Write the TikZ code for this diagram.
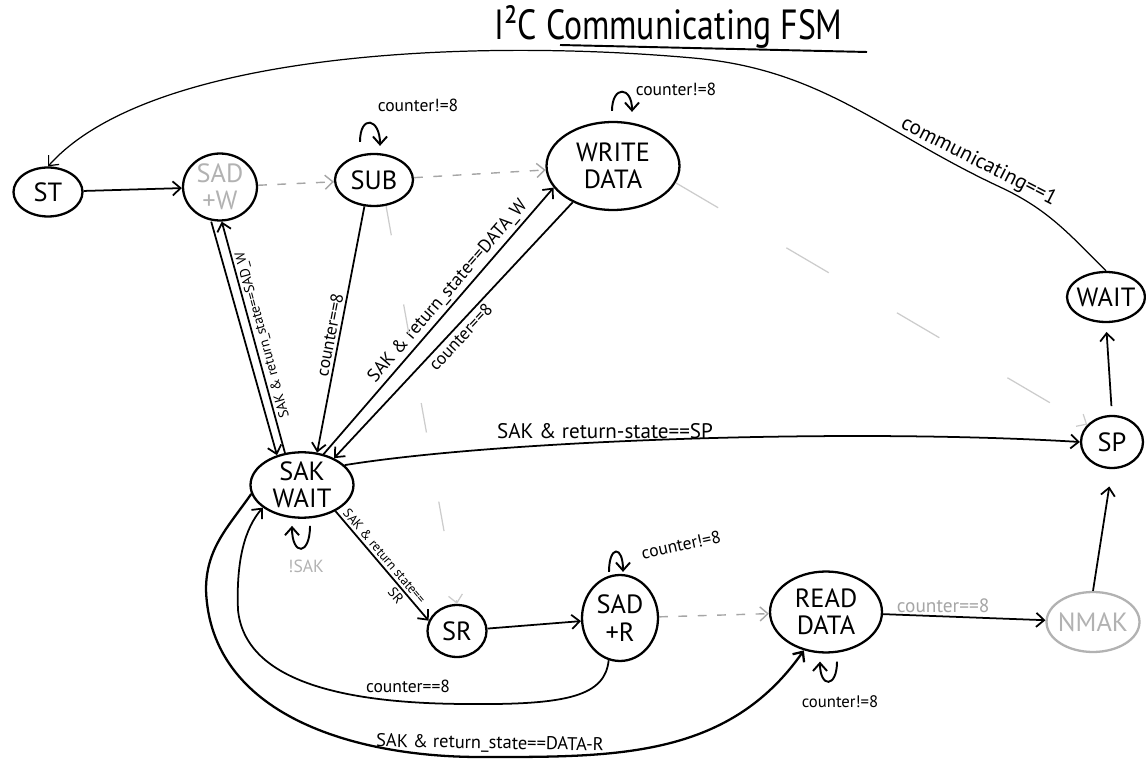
\documentclass[tikz,border=0pt]{standalone}
\usepackage{fontspec}
\setmainfont{PT Sans}
\usetikzlibrary{arrows.meta,shapes.geometric}
\newdimen\pxu \pxu=0.569pt
\begin{document}
\begin{tikzpicture}[x=0.02cm,y=-0.02cm,
  st/.style={draw, ellipse, line width=1.3pt, inner sep=0pt, align=center, font=\fontsize{15}{15.5}\selectfont},
  arr/.style={-{Straight Barb[length=4.5pt,width=8pt]}, line width=1pt},
  lab/.style={font=\fontsize{10}{11}\selectfont, inner sep=1.5pt},
  dsh/.style={arr, gray!70, dash pattern=on 5pt off 6pt, line width=0.8pt},
  faint/.style={arr, gray!40, line width=0.7pt},
  sloop/.style={arr, line width=1.1pt},
]
\fill[white] (0,0) rectangle (1146,766);
\useasboundingbox (0,0) rectangle (1146,766);

% title
\node[font=\fontsize{24}{26}\selectfont, anchor=base east, inner sep=0pt] (title) at (843,40) {\scalebox{0.8}[1]{I²C Communicating FSM}};
\draw[line width=1.1pt] (560,45) -- (867,52);

% states
\node[st, minimum width=69\pxu, minimum height=49\pxu] (ST) at (48,192) {ST};
\node[st, minimum width=74\pxu, minimum height=67\pxu, text=gray!60] (SADW) at (220,187) {SAD\\+W};
\node[st, minimum width=78\pxu, minimum height=52\pxu] (SUB) at (374,180) {SUB};
\node[st, minimum width=133\pxu, minimum height=88\pxu] (WRITE) at (613,166) {WRITE\\DATA};
\node[st, minimum width=78\pxu, minimum height=50\pxu] (WAIT) at (1106,297) {\makebox[0pt]{WAIT}};
\node[st, minimum width=62\pxu, minimum height=52\pxu] (SP) at (1112,442) {SP};
\node[st, minimum width=93\pxu, minimum height=60\pxu, draw=gray!60, text=gray!60] (NMAK) at (1093,622) {\makebox[0pt]{NMAK}};
\node[st, minimum width=112\pxu, minimum height=81\pxu] (READ) at (826,612) {READ\\DATA};
\node[st, minimum width=76\pxu, minimum height=86\pxu] (SADR) at (620,618) {SAD\\+R};
\node[st, minimum width=59\pxu, minimum height=52\pxu] (SR) at (457,631) {SR};
\node[st, minimum width=103\pxu, minimum height=64\pxu] (SAKW) at (302,485) {SAK\\WAIT};

% top row
\draw[arr] (ST) -- (SADW);
\draw[dsh] (SADW) -- (SUB);
\draw[dsh] (SUB) -- (WRITE);

% self loops
\draw[sloop] ([shift={(-14,-11)}]SUB.north) to[out=90,in=90,looseness=3.5] ([shift={(6,-7)}]SUB.north);
\node[lab] (lsub) at (418,105) {counter!=8};
\draw[sloop] ([shift={(-1,-10)}]WRITE.north) to[out=90,in=90,looseness=3.3] ([shift={(19,-9)}]WRITE.north);
\node[lab] (lwr) at (676,89) {counter!=8};
\draw[sloop] ([shift={(8,7)}]SAKW.south) to[out=-90,in=-90,looseness=4.3] ([shift={(-10,7)}]SAKW.south);
\node[lab, text=gray!60] (lsak) at (306,566) {!SAK};
\draw[sloop] ([shift={(-11,-2)}]SADR.north) to[out=90,in=90,looseness=4.9] ([shift={(3,-2)}]SADR.north);
\node[lab, rotate=12] (lsadr) at (681,545) {counter!=8};
\draw[sloop] ([shift={(11,8)}]READ.south) to[out=-90,in=-90,looseness=4] ([shift={(-6,8)}]READ.south);
\node[lab, font=\fontsize{9.5}{10}\selectfont] (lrd) at (840,702) {counter!=8};

% SAD+W <-> SAK WAIT
\draw[arr] ([xshift=-5pt]SADW.south) -- (SAKW.130);
\draw[arr] (SAKW.118) -- ([xshift=1pt]SADW.south)
  node[lab, font=\fontsize{8}{9}\selectfont, sloped, allow upside down, below, pos=0.5] {SAK \& return\_state==SAD\_W};

% SUB -> SAK WAIT
\draw[arr] (SUB.250) -- (SAKW.65) node[lab, sloped, above, pos=0.53] {counter==8};

% SAK WAIT <-> WRITE DATA
\draw[arr] (SAKW.55) -- (WRITE.200)
  node[lab, font=\fontsize{10.5}{11}\selectfont, sloped, above, pos=0.58] {SAK \& return\_state==DATA\_W};
\draw[arr] (WRITE.222) -- (SAKW.40) node[lab, sloped, below, pos=0.5] {counter==8};

% SAK WAIT -> SP
\draw[arr] (SAKW.25) .. controls (500,440) and (850,428) .. (SP.west);
\node[lab, font=\fontsize{12}{13}\selectfont] (lsp) at (605,431) {SAK \& return-state==SP};

% SAK WAIT -> SR
\draw[arr] (SAKW.-38) -- (SR.160)
  node[lab, font=\fontsize{7.5}{8}\selectfont, sloped, above, pos=0.46] {SAK \& return state==}
  node[lab, font=\fontsize{8}{9}\selectfont, sloped, below, pos=0.72] {SR};

% bottom row
\draw[arr] (SR) -- (SADR);
\draw[dsh] (SADR) -- (READ);
\draw[arr] (READ) -- (NMAK) node[lab, font=\fontsize{11}{12}\selectfont, above, pos=0.37, text=gray!70] {counter==8};
\draw[arr, shorten >=10pt] (NMAK.north) -- (SP.south);
\draw[arr, shorten <=5pt, shorten >=5pt] (SP.north) -- (WAIT.south);

% SAD+R -> SAK WAIT
\coordinate (cm1) at (470,704);
\coordinate (cm2) at (238,610);
\draw[arr] (SADR.255) .. controls (605,695) and (570,705) .. (cm1) .. controls (340,704) and (245,680) .. (cm2) .. controls (236,560) and (245,528) .. (SAKW.210);
\node[lab] (lcm) at (408,686) {counter==8};

% SAK WAIT -> READ DATA
\coordinate (dl1) at (206,590);
\coordinate (dl2) at (480,757);
\draw[arr, line width=1.3pt] (SAKW.190) to[out=235,in=90] (dl1) to[out=-88,in=180] (dl2) to[out=0,in=235] (READ.240);
\node[lab, font=\fontsize{10.5}{11}\selectfont, rotate=-1] (ldr) at (490,744) {SAK \& return\_state==DATA-R};

% WAIT -> ST
\coordinate (cw) at (1000,187);
\coordinate (tp) at (693,58);
\draw[arr, line width=0.7pt] (WAIT.north) to[out=135,in=-25] (cw)
  to[out=155,in=-5] node[lab, font=\fontsize{12}{13}\selectfont, sloped, above, pos=0.08] {communicating==1} (tp)
  .. controls (470,38) and (150,52) .. (ST.north);

% faint dashed
\draw[faint, dash pattern=on 17pt off 40pt] (SUB.-65) -- (SR.north);
\draw[faint, dash pattern=on 28pt off 45pt] (WRITE.-15) -- (SP.145);
\end{tikzpicture}
\end{document}
